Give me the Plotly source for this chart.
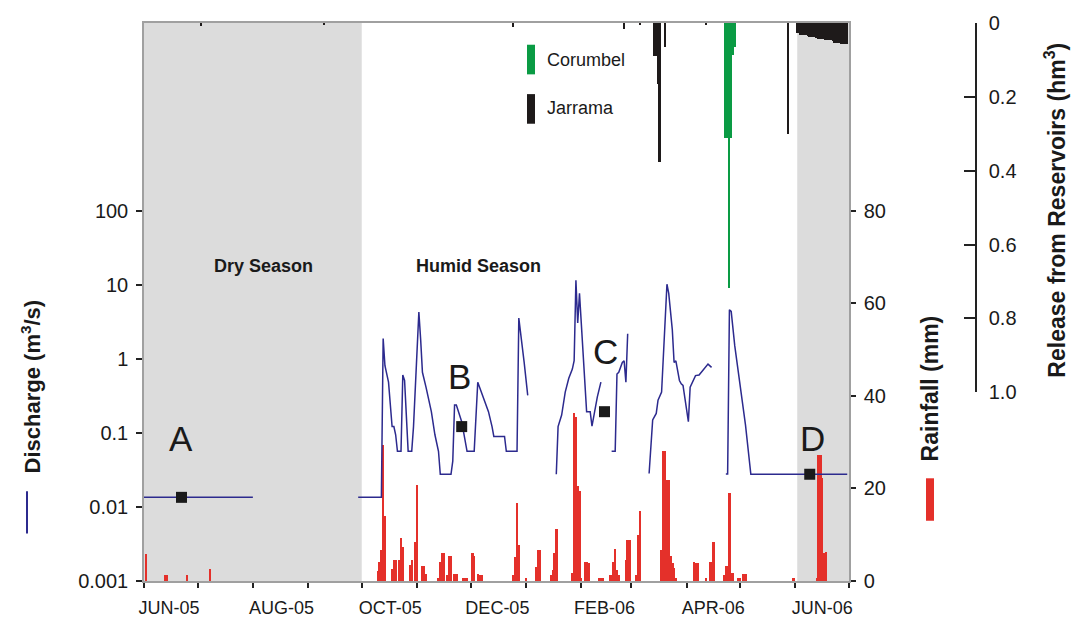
import math
import plotly.graph_objects as go

# ---------------- data ----------------
# daily discharge (m3/s); None separates gaps in the record
q_dates = [
    "2005-06-01", "2005-08-01", None,
    "2005-09-29", "2005-10-12", "2005-10-13", "2005-10-14", "2005-10-16", "2005-10-17",
    "2005-10-18", "2005-10-19", "2005-10-20", "2005-10-21", "2005-10-23", "2005-10-24",
    "2005-10-25", "2005-10-27", "2005-10-29", "2005-10-30", "2005-11-02", "2005-11-03",
    "2005-11-04", "2005-11-06", "2005-11-07", "2005-11-09", "2005-11-11", "2005-11-13",
    "2005-11-14", "2005-11-20", "2005-11-21", "2005-11-22", "2005-11-23", "2005-11-26",
    "2005-11-29", "2005-12-03", "2005-12-05", "2005-12-07", "2005-12-09", "2005-12-11",
    "2005-12-13", "2005-12-14", "2005-12-20", "2005-12-21", "2005-12-27", "2005-12-28",
    "2005-12-31", "2006-01-02", None,
    "2006-01-18", "2006-01-19", "2006-01-21", "2006-01-23", "2006-01-25", "2006-01-27",
    "2006-01-28", "2006-01-29", "2006-01-30", "2006-01-31", "2006-02-04", "2006-02-06",
    "2006-02-07", "2006-02-10", "2006-02-12", None,
    "2006-02-18", "2006-02-20", "2006-02-21", "2006-02-22", "2006-02-24", "2006-02-25",
    "2006-02-26", "2006-02-27", None,
    "2006-03-11", "2006-03-13", "2006-03-15", "2006-03-16", "2006-03-18", "2006-03-20",
    "2006-03-21", "2006-03-22", "2006-03-24", "2006-03-25", "2006-03-26", "2006-03-28",
    "2006-03-29", "2006-03-30", "2006-04-02", "2006-04-03", "2006-04-06", "2006-04-08",
    "2006-04-11", "2006-04-13", "2006-04-15", None,
    "2006-04-23", "2006-04-24", "2006-04-25", "2006-04-26", "2006-04-28", "2006-04-30",
    "2006-05-02", "2006-05-04", "2006-05-07", "2006-06-30",
]
q_values = [
    0.0135, 0.0135, None,
    0.0135, 0.0135, 1.89, 0.811, 0.486, 0.238,
    0.122, 0.122, 0.0946, 0.0566, 0.0566, 0.608,
    0.512, 0.0566, 0.0566, 0.122, 4.30, 1.84,
    0.661, 0.417, 0.323, 0.194, 0.0946, 0.0566,
    0.0277, 0.0277, 0.0417, 0.238, 0.238, 0.142,
    0.0566, 0.0566, 0.486, 0.357, 0.250, 0.194,
    0.122, 0.0897, 0.0897, 0.0566, 0.0566, 3.57,
    0.898, 0.323, None,
    0.0277, 0.122, 0.175, 0.357, 0.550, 0.731,
    0.946, 11.6, 3.07, 7.70, 0.194, 0.194,
    0.124, 0.307, 0.486, None,
    0.0566, 0.0566, 0.627, 0.661, 0.898, 0.946,
    0.486, 2.19, None,
    0.0284, 0.150, 0.184, 0.277, 0.357, 3.07,
    10.25, 7.70, 2.49, 0.898, 0.946, 0.512,
    0.461, 0.439, 0.142, 0.417, 0.597, 0.608,
    0.747, 0.853, 0.770, None,
    0.028, 0.028, 4.61, 4.39, 1.50, 0.661,
    0.323, 0.129, 0.0277, 0.0277,
]

# sampling points
sample_dates = ["2005-06-22", "2005-11-26", "2006-02-14", "2006-06-09"]
sample_q = [0.0135, 0.122, 0.194, 0.0277]
sample_labels = ["A", "B", "C", "D"]

# daily rainfall (mm)
rain_dates = [
    "2005-06-02", "2005-06-13", "2005-06-14", "2005-06-25", "2005-07-08",
    "2005-10-10", "2005-10-11", "2005-10-12", "2005-10-13", "2005-10-14",
    "2005-10-18", "2005-10-19", "2005-10-20", "2005-10-22", "2005-10-23", "2005-10-24",
    "2005-10-28", "2005-10-29", "2005-10-31", "2005-11-01",
    "2005-11-04", "2005-11-05", "2005-11-06", "2005-11-13", "2005-11-14", "2005-11-15",
    "2005-11-16", "2005-11-18", "2005-11-19", "2005-11-20", "2005-11-22", "2005-11-23",
    "2005-11-27", "2005-11-28", "2005-11-29", "2005-12-02", "2005-12-03", "2005-12-05",
    "2005-12-06", "2005-12-07", "2005-12-25", "2005-12-26", "2005-12-27", "2005-12-28",
    "2006-01-01", "2006-01-07", "2006-01-08", "2006-01-09", "2006-01-15", "2006-01-16",
    "2006-01-17", "2006-01-18", "2006-01-27", "2006-01-28", "2006-01-29", "2006-01-30",
    "2006-01-31", "2006-02-01", "2006-02-03", "2006-02-04", "2006-02-05", "2006-02-11",
    "2006-02-12", "2006-02-13", "2006-02-17", "2006-02-18", "2006-02-19", "2006-02-20",
    "2006-02-21", "2006-02-22", "2006-02-26", "2006-02-27", "2006-02-28", "2006-03-04",
    "2006-03-05", "2006-03-06", "2006-03-18", "2006-03-19", "2006-03-20", "2006-03-21",
    "2006-03-22", "2006-03-23", "2006-03-24", "2006-03-25", "2006-03-26", "2006-04-05",
    "2006-04-06", "2006-04-07", "2006-04-12", "2006-04-14", "2006-04-15", "2006-04-16",
    "2006-04-22", "2006-04-23", "2006-04-24", "2006-04-25", "2006-04-26", "2006-04-27",
    "2006-04-30", "2006-05-01", "2006-05-03", "2006-05-04", "2006-05-31", "2006-06-13",
    "2006-06-14", "2006-06-15", "2006-06-16", "2006-06-17", "2006-06-18",
]
rain_mm = [
    5.8, 1.2, 1.2, 1.2, 2.7,
    2.1, 4.2, 6.6, 29.3, 14.0,
    2.6, 4.6, 4.6, 4.6, 9.3, 7.4,
    3.5, 4.6, 8.5, 20.7,
    3.2, 3.2, 1.6, 0.6, 4.2, 6.1,
    6.1, 1.3, 5.4, 5.4, 1.5, 1.5,
    0.6, 0.6, 0.6, 6.1, 5.5, 1.5,
    1.3, 1.3, 1.4, 5.1, 16.8, 7.8,
    0.6, 3.0, 6.6, 6.6, 1.2, 2.3,
    6.1, 11.2, 1.7, 36.2, 35.5, 20.5,
    19.5, 0.6, 4.2, 4.2, 3.8, 0.6,
    0.6, 0.6, 1.3, 1.3, 4.2, 7.0,
    2.4, 1.3, 4.6, 8.9, 8.9, 1.3,
    9.9, 15.1, 6.6, 28.0, 28.0, 21.8,
    21.8, 5.3, 3.8, 2.8, 0.6, 4.2,
    3.8, 3.8, 0.6, 4.2, 4.2, 8.5,
    1.3, 3.2, 3.2, 19.1, 1.8, 1.8,
    0.6, 0.6, 1.6, 1.6, 0.6, 0.6,
    27.2, 27.2, 22.3, 6.0, 6.2,
]

# releases from reservoirs (hm3)
jarrama_dates = [
    "2005-07-03", "2005-09-10", "2005-12-25", "2006-02-25", "2006-03-06",
    "2006-03-14", "2006-03-15", "2006-03-16", "2006-03-17", "2006-03-20",
    "2006-04-12", "2006-05-28",
    "2006-06-02", "2006-06-03", "2006-06-04", "2006-06-05", "2006-06-06", "2006-06-07",
    "2006-06-08", "2006-06-09", "2006-06-10", "2006-06-11", "2006-06-12", "2006-06-13",
    "2006-06-14", "2006-06-15", "2006-06-16", "2006-06-17", "2006-06-18", "2006-06-19",
    "2006-06-20", "2006-06-21", "2006-06-22", "2006-06-23", "2006-06-24", "2006-06-25",
    "2006-06-26", "2006-06-27", "2006-06-28", "2006-06-29", "2006-06-30",
]
jarrama_hm3 = [
    0.009, 0.006, 0.012, 0.015, 0.005,
    0.09, 0.09, 0.165, 0.377, 0.066,
    0.006, 0.30,
    0.027, 0.027, 0.033, 0.033, 0.033, 0.033,
    0.035, 0.037, 0.037, 0.037, 0.037, 0.040,
    0.042, 0.042, 0.042, 0.044, 0.046, 0.046,
    0.046, 0.046, 0.050, 0.053, 0.053, 0.053,
    0.053, 0.056, 0.058, 0.058, 0.058,
]
corumbel_dates = ["2006-04-23", "2006-04-24", "2006-04-25", "2006-04-26", "2006-04-27", "2006-04-28"]
corumbel_hm3 = [0.31, 0.31, 0.717, 0.31, 0.086, 0.066]

# seasons and axis labels
dry_periods = [("2005-06-01", "2005-10-01"), ("2006-06-02", "2006-07-01")]
month_ticks = [
    "2005-06-01", "2005-07-01", "2005-08-01", "2005-09-01", "2005-10-01", "2005-11-01",
    "2005-12-01", "2006-01-01", "2006-02-01", "2006-03-01", "2006-04-01", "2006-05-01",
    "2006-06-01", "2006-07-01",
]
label_dates = ["2005-06-15", "2005-08-17", "2005-10-17", "2005-12-16", "2006-02-14", "2006-04-16", "2006-06-16"]
label_text = ["JUN-05", "AUG-05", "OCT-05", "DEC-05", "FEB-06", "APR-06", "JUN-06"]
q_ticks = [0.001, 0.01, 0.1, 1, 10, 100]
q_ticktext = ["0.001", "0.01", "0.1", "1", "10", "100"]
rain_ticks = [0, 20, 40, 60, 80]
rel_ticks = [0, 0.2, 0.4, 0.6, 0.8, 1.0]
rel_ticktext = ["0", "0.2", "0.4", "0.6", "0.8", "1.0"]

# ---------------- figure ----------------
FONT = "Arial, 'Liberation Sans', sans-serif"
TXT = "#1a1a1a"
DAY = 86400000
W, H = 1078, 638
L, R, T, B = 144, 102, 16, 57
PW, PH = W - L - R, H - T - B


def px(xp):
    return (xp - L) / PW


def py(yp):
    return (H - B - yp) / PH


fig = go.Figure()
fig.add_trace(go.Bar(x=rain_dates, y=rain_mm, yaxis="y", width=1.35 * DAY,
                     marker=dict(color="#e4302a", line=dict(width=0)), name="Rainfall"))
fig.add_trace(go.Bar(x=jarrama_dates, y=jarrama_hm3, yaxis="y3", width=DAY,
                     marker=dict(color="#1e1a1a", line=dict(width=0)), name="Jarrama"))
fig.add_trace(go.Bar(x=corumbel_dates, y=corumbel_hm3, yaxis="y3", width=DAY,
                     marker=dict(color="#0a9b44", line=dict(width=0)), name="Corumbel"))
fig.add_trace(go.Scatter(x=q_dates, y=q_values, yaxis="y2", mode="lines", connectgaps=False,
                         line=dict(color="#2c2a8e", width=1.5), name="Discharge"))
fig.add_trace(go.Scatter(x=sample_dates, y=sample_q, yaxis="y2", mode="markers",
                         marker=dict(symbol="square", size=11, color="#1a1a1a"), name="Samples"))

shapes = []
for a, b in dry_periods:
    shapes.append(dict(type="rect", xref="x", yref="paper", x0=a, x1=b, y0=0, y1=1,
                       fillcolor="#dcdcdc", line=dict(width=0), layer="below"))
# legend swatches
shapes.append(dict(type="rect", xref="paper", yref="paper", x0=px(527), x1=px(535), y0=py(68), y1=py(38),
                   fillcolor="#0a9b44", line=dict(width=0)))
shapes.append(dict(type="rect", xref="paper", yref="paper", x0=px(527), x1=px(535), y0=py(118), y1=py(88),
                   fillcolor="#1e1a1a", line=dict(width=0)))
shapes.append(dict(type="line", xref="paper", yref="paper", x0=px(27), x1=px(27), y0=py(533), y1=py(490),
                   line=dict(color="#2c2a8e", width=2)))
shapes.append(dict(type="rect", xref="paper", yref="paper", x0=px(926), x1=px(934), y0=py(520), y1=py(477),
                   fillcolor="#e4302a", line=dict(width=0)))


def note(x, y, text, size, angle=0, xanchor="center"):
    return dict(xref="paper", yref="paper", x=px(x), y=py(y), text=text, showarrow=False,
                xanchor=xanchor, yanchor="middle", textangle=angle,
                font=dict(size=size, color=TXT))


annotations = [
    note(545, 53, "Corumbel", 18, xanchor="left"),
    note(545, 102, "Jarrama", 18, xanchor="left"),
    note(263, 262, "<b>Dry Season</b>", 18),
    note(478, 262, "<b>Humid Season</b>", 18),
    note(31, 384, "<b>Discharge (m<sup>3</sup>/s)</b>", 22, angle=-90),
    note(930, 386, "<b>Rainfall (mm)</b>", 23, angle=-90),
    note(1055, 206, "<b>Release from Reservoirs (hm<sup>3</sup>)</b>", 23, angle=-90),
]
letter_shift = [(0, 59), (-2, 50), (1, 60), (3, 36)]
for d, q, lab, (dx, dy) in zip(sample_dates, sample_q, sample_labels, letter_shift):
    annotations.append(dict(xref="x", yref="y2", x=d, y=math.log10(q), text=lab, showarrow=False,
                            xanchor="center", yanchor="middle",
                            xshift=dx, yshift=dy, font=dict(size=35, color=TXT)))

fig.update_layout(
    width=W, height=H,
    margin=dict(l=L, r=R, t=T, b=B),
    paper_bgcolor="white", plot_bgcolor="rgba(0,0,0,0)",
    showlegend=False, barmode="overlay", bargap=0,
    font=dict(family=FONT, color=TXT),
    shapes=shapes, annotations=annotations,
    xaxis=dict(type="date", domain=[0, 705 / PW], range=["2005-06-01", "2006-07-01"],
               tickvals=label_dates, ticktext=label_text, ticks="", ticklabelstandoff=10,
               tickfont=dict(size=18, color=TXT),
               minor=dict(tickvals=month_ticks, ticks="outside", ticklen=5, tickwidth=1.5, tickcolor="#222"),
               showline=True, mirror=True, linecolor="#a0a0a0", linewidth=1.5,
               showgrid=False, zeroline=False),
    yaxis=dict(range=[0, 120.5], side="right", anchor="x", tickvals=rain_ticks,
               ticks="outside", ticklen=5, tickwidth=1.5, tickcolor="#222",
               tickfont=dict(size=20, color=TXT), ticklabelstandoff=4,
               showline=True, linecolor="#a0a0a0", linewidth=1.5,
               showgrid=False, zeroline=False),
    yaxis2=dict(type="log", range=[-3, 4.54], overlaying="y", side="left", anchor="x",
                tickvals=q_ticks, ticktext=q_ticktext,
                ticks="outside", ticklen=6, tickwidth=1.5, tickcolor="#222",
                tickfont=dict(size=20, color=TXT), ticklabelstandoff=4,
                showline=True, linecolor="#a0a0a0", linewidth=1.5,
                showgrid=False, zeroline=False),
    yaxis3=dict(domain=[(H - B - 390) / PH, 1], range=[1, 0], anchor="free", position=1.0,
                side="right", tickvals=rel_ticks, ticktext=rel_ticktext,
                ticks="inside", ticklen=11, tickwidth=1.5, tickcolor="#222",
                tickfont=dict(size=20, color=TXT), ticklabelstandoff=8,
                showline=True, linecolor="#222", linewidth=1.5,
                showgrid=False, zeroline=False),
)

fig.write_html("out.html", config={"displayModeBar": False},
               post_script="document.body.style.margin='0px';")
